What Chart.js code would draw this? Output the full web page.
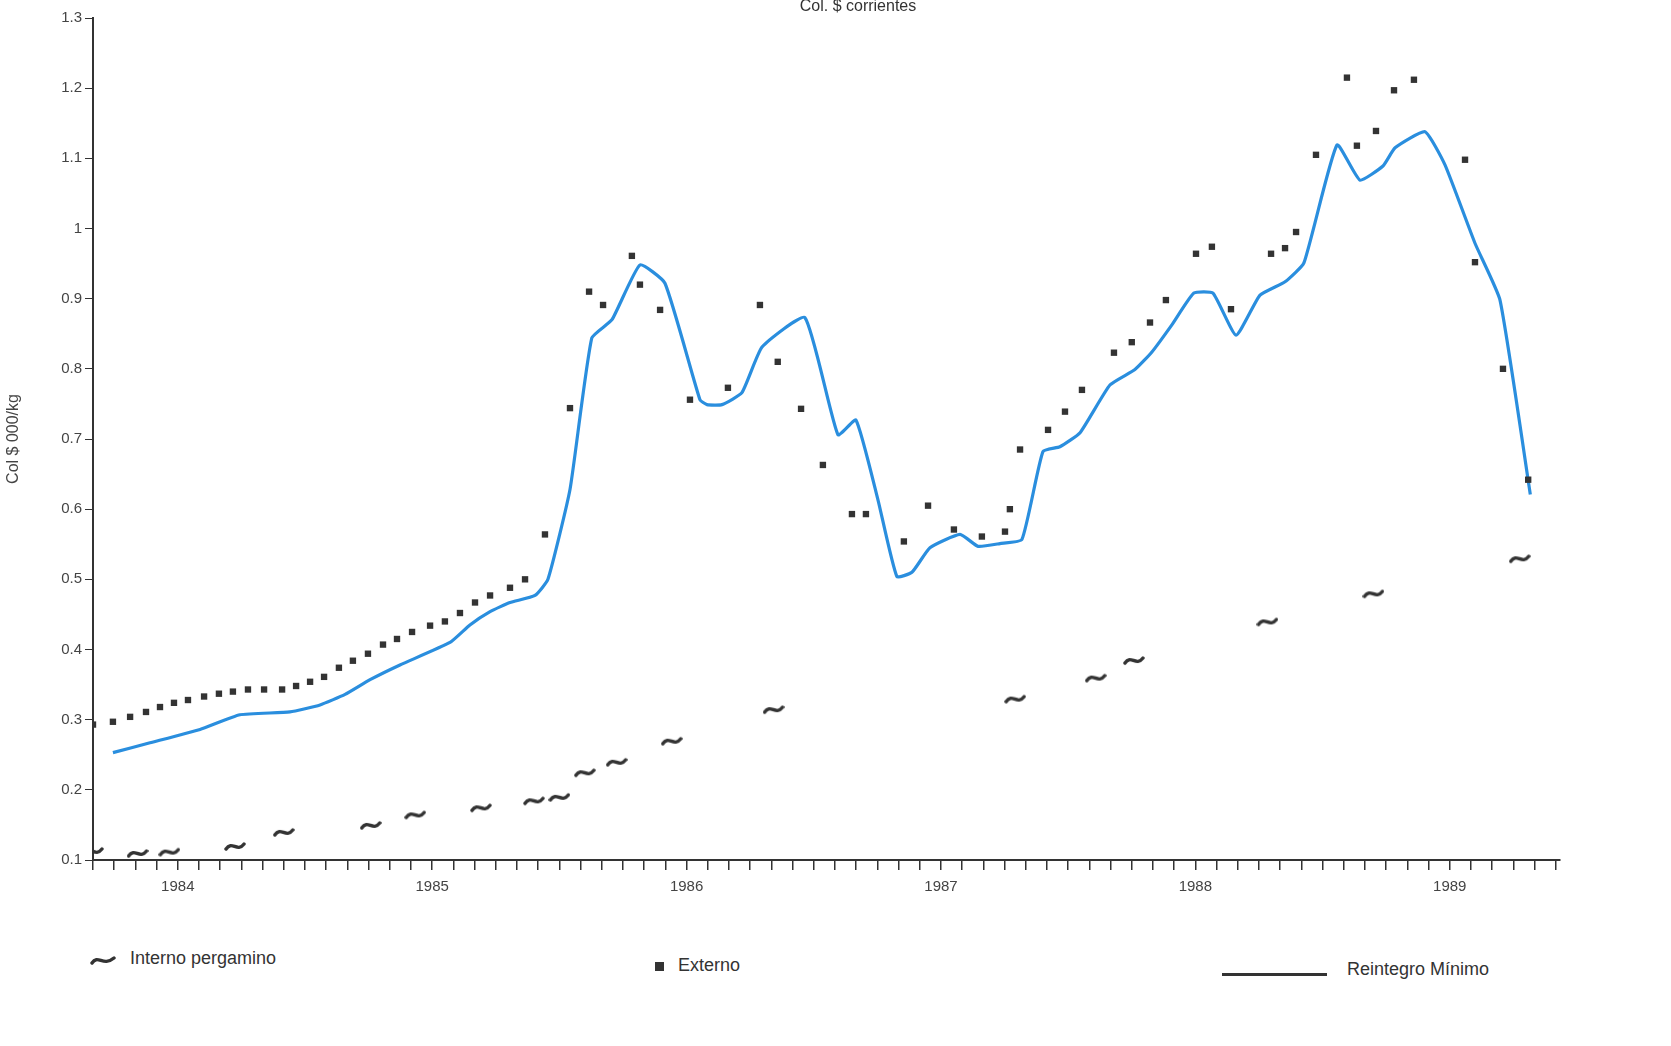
<!DOCTYPE html>
<html>
<head>
<meta charset="utf-8">
<script src="https://cdn.jsdelivr.net/npm/chart.js@4/dist/chart.umd.min.js"></script>
<style>
  body { margin: 0; background: #fff; font-family: "Liberation Sans", Arial, sans-serif; color: #333; }
  #wrap { position: relative; width: 1671px; height: 1046px; }
  #title { position: absolute; left: 0; width: 1716px; top: -3px; text-align: center; font-size: 16px; }
  .leg { position: absolute; font-size: 18px; }
</style>
</head>
<body>
<div id="wrap">
  <canvas id="c" width="1671" height="900" style="position:absolute;left:0;top:0"></canvas>
  <div id="title">Col. $ corrientes</div>
  <canvas id="legTilde" width="26" height="14" style="position:absolute;left:90px;top:954px"></canvas>
  <div class="leg" style="left:130px;top:948px">Interno pergamino</div>
  <div class="leg" style="left:655px;top:955px"><span style="display:inline-block;width:9px;height:9px;background:#333;margin-right:14px"></span>Externo</div>
  <div style="position:absolute;left:1222px;top:973px;width:105px;height:3px;background:#333"></div>
  <div class="leg" style="left:1347px;top:959px">Reintegro Mínimo</div>
</div>
<script>
// x values are months counted from the first tick (Sep 1983)
const yearLabels = {4: "1984", 16: "1985", 28: "1986", 40: "1987", 52: "1988", 64: "1989"}

const internoX = [0, 2.1, 3.6, 6.7, 9.0, 13.1, 15.2, 18.3, 20.8, 22.0, 23.2, 24.7, 27.3, 32.1, 43.5, 47.3, 49.1, 55.4, 60.4, 67.3]
const internoY = [0.113, 0.11, 0.112, 0.12, 0.14, 0.15, 0.165, 0.175, 0.185, 0.19, 0.225, 0.24, 0.27, 0.315, 0.33, 0.36, 0.385, 0.44, 0.48, 0.53]

const externoX = [0, 0.94, 1.75, 2.5, 3.16, 3.82, 4.48, 5.24, 5.94, 6.6, 7.31, 8.07, 8.92, 9.58, 10.24, 10.9, 11.6, 12.26, 12.97, 13.68,
  14.34, 15.05, 15.9, 16.6, 17.31, 18.02, 18.73, 19.67, 20.38, 21.32, 22.5, 23.4, 24.06, 25.42, 25.8, 26.75, 28.16, 29.95, 31.46, 32.3,
  33.4, 34.43, 35.8, 36.46, 38.25, 39.39, 40.61, 41.93, 43.02, 43.25, 43.73, 45.05, 45.85, 46.65, 48.16, 49.0, 49.86, 50.61, 52.03, 52.78,
  53.68, 55.57, 56.23, 56.75, 57.69, 59.15, 59.62, 60.52, 61.37, 62.31, 64.72, 65.19, 66.51, 67.7]
const externoY = [0.293, 0.297, 0.304, 0.311, 0.318, 0.324, 0.328, 0.333, 0.337, 0.34, 0.343, 0.343, 0.343, 0.348, 0.354, 0.361, 0.374, 0.384, 0.394, 0.407,
  0.415, 0.425, 0.434, 0.44, 0.452, 0.467, 0.477, 0.488, 0.5, 0.564, 0.744, 0.91, 0.891, 0.961, 0.92, 0.884, 0.756, 0.773, 0.891, 0.81,
  0.743, 0.663, 0.593, 0.593, 0.554, 0.605, 0.571, 0.561, 0.568, 0.6, 0.685, 0.713, 0.739, 0.77, 0.823, 0.838, 0.866, 0.898, 0.964, 0.974,
  0.885, 0.964, 0.972, 0.995, 1.105, 1.215, 1.118, 1.139, 1.197, 1.212, 1.098, 0.952, 0.8, 0.642]

const reintegroX = [0.94, 2.69, 5.05, 6.93, 9.29, 10.71, 11.89, 13.07, 14.48, 16.84, 17.78, 18.73, 19.67, 20.85, 21.46, 22.5, 23.53, 24.48, 25.8, 26.98,
  28.63, 28.96, 29.67, 30.61, 31.56, 33.58, 35.14, 35.99, 37.03, 37.92, 38.63, 39.48, 40.9, 41.75, 42.78, 43.82, 44.81, 45.61, 46.56, 47.97,
  49.15, 49.95, 50.9, 51.93, 52.83, 53.92, 55.05, 56.23, 57.12, 58.68, 59.76, 60.85, 61.42, 62.83, 63.77, 65.19, 66.37, 67.8]
const reintegroY = [0.253, 0.267, 0.286, 0.307, 0.311, 0.321, 0.336, 0.357, 0.378, 0.41, 0.435, 0.454, 0.467, 0.477, 0.5, 0.628, 0.844, 0.87, 0.948, 0.922,
  0.756, 0.749, 0.749, 0.766, 0.831, 0.873, 0.706, 0.727, 0.613, 0.504, 0.51, 0.545, 0.564, 0.547, 0.551, 0.557, 0.682, 0.689, 0.709, 0.777,
  0.799, 0.824, 0.863, 0.908, 0.908, 0.848, 0.905, 0.924, 0.951, 1.119, 1.069, 1.089, 1.115, 1.138, 1.091, 0.979, 0.898, 0.621]

const yTicks = [0.1, 0.2, 0.3, 0.4, 0.5, 0.6, 0.7, 0.8, 0.9, 1, 1.1, 1.2, 1.3]

function zip(xs, ys) { return xs.map((x, i) => ({x: x, y: ys[i]})) }

// tilde marker
function drawTilde(cv) {
    let tc = cv.getContext('2d')
    tc.strokeStyle = '#333'; tc.lineWidth = 3.4; tc.lineCap = 'round'
    tc.beginPath(); tc.moveTo(2, 9); tc.bezierCurveTo(8, 0, 13, 13, cv.width - 2, 4); tc.stroke()
}
let tilde = document.createElement('canvas')
tilde.width = 22; tilde.height = 12
drawTilde(tilde)
drawTilde(document.getElementById('legTilde'))

new Chart(document.getElementById('c'), {
    type: 'scatter',
    data: {
        datasets: [{
            label: 'Interno pergamino',
            data: zip(internoX, internoY),
            pointStyle: tilde
        },
        {
            label: 'Externo',
            data: zip(externoX, externoY),
            pointStyle: 'rect',
            pointRadius: 4.5,
            backgroundColor: '#333',
            borderWidth: 0
        },
        {
            label: 'Reintegro Mínimo',
            type: 'line',
            data: zip(reintegroX, reintegroY),
            borderColor: '#2a8ede',
            borderWidth: 3.2,
            pointRadius: 0,
            tension: 0.15
        }]
    },
    options: {
        responsive: false,
        animation: false,
        plugins: { legend: { display: false }, tooltip: { enabled: false } },
        layout: { padding: { top: 18, right: 111 } },
        scales: {
            x: {
                type: 'linear', min: 0, max: 69.2,
                border: { color: '#333', width: 2 },
                grid: { drawOnChartArea: false, color: '#333', tickLength: 10, lineWidth: 1.5 },
                afterBuildTicks: axis => { axis.ticks = []; for (let i = 0; i <= 69; i++) axis.ticks.push({value: i}) },
                ticks: {
                    autoSkip: false, maxRotation: 0, padding: 8,
                    color: '#444', font: { size: 15, family: 'Liberation Sans' },
                    callback: v => yearLabels[v] || ''
                },
                afterFit: axis => { axis.height = 40 }
            },
            y: {
                min: 0.1, max: 1.3,
                border: { color: '#333', width: 2 },
                grid: { drawOnChartArea: false, color: '#333', tickLength: 8 },
                afterBuildTicks: axis => { axis.ticks = yTicks.map(v => ({value: v})) },
                ticks: { color: '#444', font: { size: 15, family: 'Liberation Sans' }, callback: v => String(Math.round(v * 10) / 10) },
                title: { display: true, text: 'Col $ 000/kg', color: '#444', font: { size: 16, family: 'Liberation Sans' } },
                afterFit: axis => { axis.width = 93 }
            }
        }
    }
})
</script>
</body>
</html>
